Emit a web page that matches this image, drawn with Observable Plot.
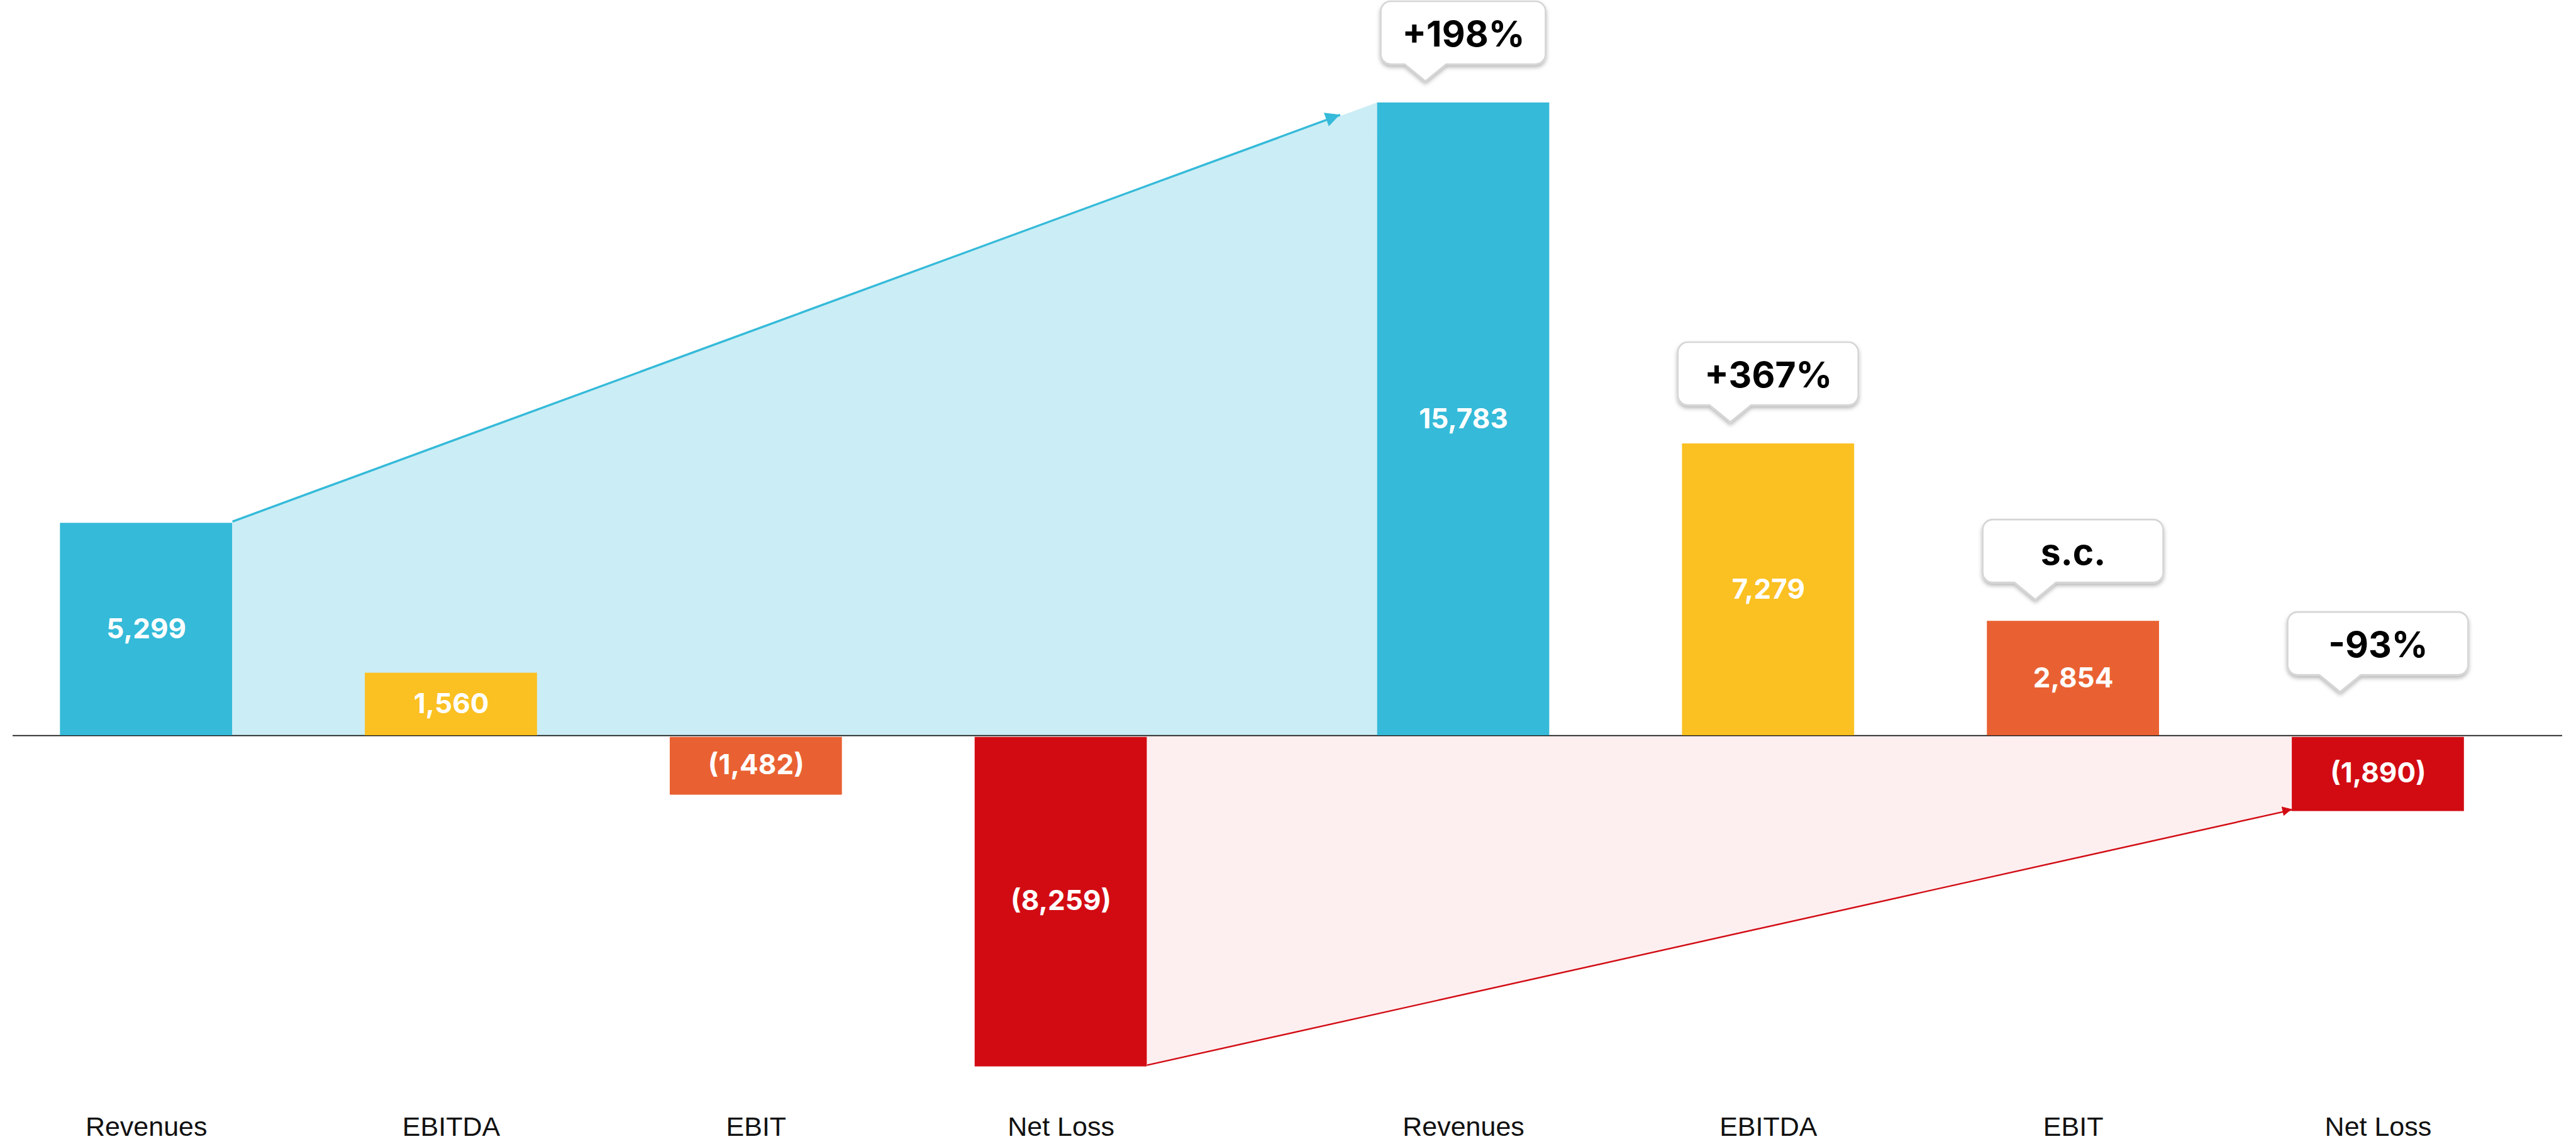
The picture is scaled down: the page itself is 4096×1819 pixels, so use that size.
<!DOCTYPE html>
<html><head><meta charset="utf-8">
<script src="https://cdn.jsdelivr.net/npm/d3@7"></script>
<script src="https://cdn.jsdelivr.net/npm/@observablehq/plot@0.6"></script>
<style>html,body{margin:0;padding:0;background:#fff;overflow:hidden}</style>
</head><body><div id="chart"></div>
<script>
// ---- data ----
const categories = ["Revenues", "EBITDA", "EBIT", "Net Loss"];
const period1Values = [5299, 1560, -1482, -8259];
const period2Values = [15783, 7279, 2854, -1890];
const changeLabels = ["+198%", "+367%", "s.c.", "-93%"];
const categoryColors = ["#35BAD9", "#FBC021", "#E96132", "#D20B13"];

// ---- layout (output px) ----
const W = 4096, H = 1819;
const GROUP_GAP = 0.32;     // extra space between the two periods (in steps)
const HALF = 0.2823;        // half bar width (in steps)
const fmt = d3.format(",");
const label = v => v < 0 ? `(${fmt(-v)})` : fmt(v);

const rows = [];
[period1Values, period2Values].forEach((vals, p) =>
  vals.forEach((v, i) => rows.push({
    period: p, idx: i, category: categories[i], value: v, color: categoryColors[i],
    pos: p * (categories.length + GROUP_GAP) + i,
    change: p === 1 ? changeLabels[i] : null
  })));
const nCat = categories.length;
const rev1 = rows[0], rev2 = rows[nCat], nl1 = rows[nCat - 1], nl2 = rows[2 * nCat - 1];
const lastPos = rows[rows.length - 1].pos;

const xOpts = {type: "linear", domain: [0, lastPos], range: [232.2, 232.2 + 484.8 * lastPos]};
const yOpts = {type: "linear", domain: [0, 10000], range: [1169.1, 1169.1 - 637.5]};
const xs = Plot.scale({x: xOpts}), ys = Plot.scale({y: yOpts});
const X = v => xs.apply(v), Y = v => ys.apply(v);

// areas between the two periods
const upFill = [{x: rev1.pos + HALF, y: rev1.value}, {x: rev2.pos - HALF, y: rev2.value}];
const downFill = [{x: nl1.pos + HALF, y: nl1.value}, {x: nl2.pos - HALF, y: nl2.value}];

// arrows
const blueShort = 0.122;
const tBlue = 1 - blueShort / ((rev2.pos - HALF) - (rev1.pos + HALF));
const arrows = [
  {x1: rev1.pos + HALF, y1: rev1.value,
   x2: (rev1.pos + HALF) + tBlue * ((rev2.pos - HALF) - (rev1.pos + HALF)),
   y2: rev1.value + tBlue * (rev2.value - rev1.value),
   color: "#35BAD9", sw: 3.5, head: 23, dy: -2.5},
  {x1: nl1.pos + HALF, y1: nl1.value, x2: nl2.pos - HALF, y2: nl2.value,
   color: "#D20B13", sw: 2.4, head: 15, dy: -3}
];

const posRows = rows.filter(d => d.value >= 0), negRows = rows.filter(d => d.value < 0);
const p2 = rows.filter(d => d.period === 1);
const GAP_POS = 34, GAP_NEG = 69, TIP_H = 27, BOX_H = 100;
const boxW = d => d.idx === 0 ? 262 : 287;

function decorations() {
  const g = d3.create("svg:g");
  const defs = g.append("defs");
  const f = defs.append("filter").attr("id", "cshadow").attr("x", "-20%").attr("y", "-20%").attr("width", "140%").attr("height", "160%");
  f.append("feDropShadow").attr("dx", 0).attr("dy", 4).attr("stdDeviation", 3)
    .attr("flood-color", "#000").attr("flood-opacity", 0.28);
  // arrow heads
  for (const a of arrows) {
    const x1 = X(a.x1), y1 = Y(a.y1) + a.dy, x2 = X(a.x2), y2 = Y(a.y2) + a.dy;
    const ang = Math.atan2(y2 - y1, x2 - x1);
    const ux = Math.cos(ang), uy = Math.sin(ang), px = -uy, py = ux;
    const bx = x2 - ux * a.head, by = y2 - uy * a.head, hw = a.head / 2;
    g.append("path")
      .attr("d", `M${x2},${y2}L${bx + px * hw},${by + py * hw}L${bx - px * hw},${by - py * hw}Z`)
      .attr("fill", a.color);
  }
  // callout boxes
  for (const d of p2) {
    const anchorY = Y(Math.max(0, d.value));
    const tipY = anchorY - (d.value < 0 ? GAP_NEG : GAP_POS);
    const yb = tipY - TIP_H, yt = yb - BOX_H;
    const cx = X(d.pos), w = boxW(d), xl = cx - w / 2, xr = cx + w / 2, r = 16;
    const tx = cx - 60, th = 33;
    const path = `M${xl + r},${yt}H${xr - r}A${r},${r} 0 0 1 ${xr},${yt + r}V${yb - r}A${r},${r} 0 0 1 ${xr - r},${yb}` +
      `H${tx + th}L${tx},${tipY}L${tx - th},${yb}H${xl + r}A${r},${r} 0 0 1 ${xl},${yb - r}V${yt + r}A${r},${r} 0 0 1 ${xl + r},${yt}Z`;
    g.append("path").attr("d", path).attr("fill", "#fff").attr("stroke", "#d5d5d5")
      .attr("stroke-width", 2.6).attr("filter", "url(#cshadow)");
  }
  return g.node();
}

const calloutDy = gap => -(gap + TIP_H + BOX_H / 2);

const chart = Plot.plot({
  width: W, height: H,
  marginTop: 0, marginRight: 0, marginBottom: 0, marginLeft: 0,
  x: {...xOpts, axis: null},
  y: {...yOpts, axis: null},
  style: {background: "#fff", fontFamily: "Inter, sans-serif", overflow: "visible"},
  marks: [
    Plot.areaY(upFill, {x: "x", y1: 0, y2: "y", fill: "#CBEDF5", curve: "linear"}),
    Plot.areaY(downFill, {x: "x", y1: 0, y2: "y", fill: "#FDEFF0", curve: "linear"}),
    Plot.ruleY([0], {stroke: "#111", strokeWidth: 1.6, insetLeft: 20, insetRight: 22}),
    Plot.rect(posRows, {x1: d => d.pos - HALF, x2: d => d.pos + HALF, y1: 0, y2: "value", fill: "color"}),
    Plot.rect(negRows, {x1: d => d.pos - HALF, x2: d => d.pos + HALF, y1: 0, y2: "value", fill: "color", insetTop: 2.6}),
    Plot.link(arrows, {x1: "x1", y1: "y1", x2: d => d.x2, y2: "y2", stroke: "color", strokeWidth: "sw", dy: -2.5}),
    decorations,
    Plot.text(rows, {x: "pos", y: d => d.value / 2, text: d => label(d.value), fill: "#fff",
      fontSize: 44, fontWeight: 700, fontFamily: "Inter", lineAnchor: "middle"}),
    Plot.text(rows, {x: "pos", frameAnchor: "bottom", dy: -27, text: "category", fill: "#111",
      fontSize: 43, fontFamily: "Liberation Sans", lineAnchor: "middle"}),
    Plot.text(p2.filter(d => d.value >= 0), {x: "pos", y: d => Math.max(0, d.value), dy: calloutDy(GAP_POS) + 3,
      text: "change", fill: "#000", fontSize: 57, fontWeight: 700, fontFamily: "Inter", lineAnchor: "middle"}),
    Plot.text(p2.filter(d => d.value < 0), {x: "pos", y: d => Math.max(0, d.value), dy: calloutDy(GAP_NEG) + 3,
      text: "change", fill: "#000", fontSize: 57, fontWeight: 700, fontFamily: "Inter", lineAnchor: "middle"})
  ]
});
document.getElementById("chart").appendChild(chart);
</script>
</body></html>
